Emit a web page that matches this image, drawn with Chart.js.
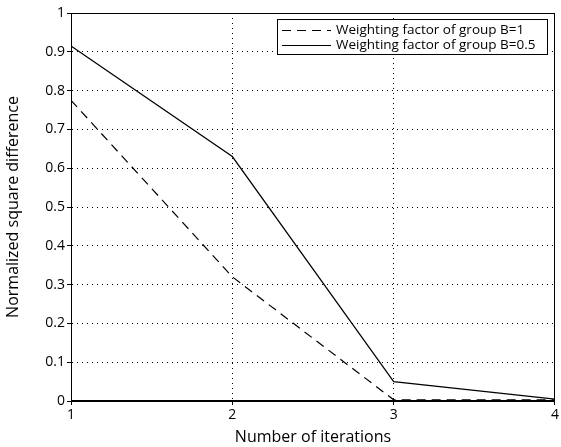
<!DOCTYPE html>
<html>
<head>
<meta charset="utf-8">
<script src="https://cdn.jsdelivr.net/npm/chart.js@4"></script>
<style>
  html, body { margin: 0; padding: 0; background: #fff; }
  #wrap { width: 561px; height: 447px; }
</style>
</head>
<body>
<div id="wrap"><canvas id="grafico" width="561" height="447"></canvas></div>
<script>
// dados
const iteracoes = [1, 2, 3, 4];
const pesoB1 = [0.775, 0.32, 0.003, 0.003];
const pesoB05 = [0.915, 0.63, 0.05, 0.005];
const nomes = ['Weighting factor of group B=1', 'Weighting factor of group B=0.5'];

const fonte = "'Open Sans', 'DejaVu Sans', sans-serif";

// caixa em volta do gráfico + legenda com borda (estilo MATLAB)
const caixaPlugin = {
  id: 'caixa',
  afterDraw(chart) {
    const { ctx, chartArea: a } = chart;
    ctx.save();
    ctx.strokeStyle = '#000';
    ctx.lineWidth = 1;
    ctx.setLineDash([]);
    ctx.strokeRect(a.left + 0.5, a.top + 0.5, a.right - a.left - 1, a.bottom - a.top - 1);

    // legenda
    const lx = 277, ly = 19, lw = 270, lh = 35;
    ctx.fillStyle = '#fff';
    ctx.fillRect(lx, ly, lw, lh);
    ctx.strokeRect(lx + 0.5, ly + 0.5, lw, lh);
    ctx.font = '13.5px ' + fonte;
    ctx.textBaseline = 'middle';
    chart.data.datasets.forEach((ds, i) => {
      const y = ly + 11 + i * 15;
      ctx.strokeStyle = '#000';
      ctx.setLineDash(ds.borderDash || []);
      ctx.beginPath();
      ctx.moveTo(lx + 5, Math.round(y) + 0.5);
      ctx.lineTo(lx + 54, Math.round(y) + 0.5);
      ctx.stroke();
      ctx.setLineDash([]);
      ctx.fillStyle = '#000';
      ctx.fillText(nomes[i], lx + 59, y);
    });
    ctx.restore();
  }
};

new Chart(document.getElementById('grafico'), {
  type: 'line',
  data: {
    datasets: [
      {
        label: nomes[0],
        data: iteracoes.map((x, i) => ({ x: x, y: pesoB1[i] })),
        borderColor: '#000',
        borderWidth: 1.2,
        borderDash: [9, 6],
        pointRadius: 0,
        tension: 0,
        fill: false
      },
      {
        label: nomes[1],
        data: iteracoes.map((x, i) => ({ x: x, y: pesoB05[i] })),
        borderColor: '#000',
        borderWidth: 1.2,
        pointRadius: 0,
        tension: 0,
        fill: false
      }
    ]
  },
  options: {
    responsive: false,
    animation: false,
    layout: { padding: { left: 0, right: 3, top: 13, bottom: 0 } },
    plugins: {
      legend: { display: false },
      tooltip: { enabled: false }
    },
    scales: {
      x: {
        type: 'linear',
        min: 1,
        max: 4,
        afterFit: s => { s.height = 46; },
        ticks: { stepSize: 1, color: '#000', font: { family: fonte, size: 14 }, padding: 2 },
        grid: { color: '#000', lineWidth: 1, tickLength: 4 },
        border: { dash: [1, 4], color: '#000' },
        title: { display: true, text: 'Number of iterations', color: '#000', font: { family: fonte, size: 16 }, padding: { top: 0, bottom: 0 } }
      },
      y: {
        min: 0,
        max: 1,
        afterFit: s => { s.width = 71; },
        ticks: {
          stepSize: 0.1,
          color: '#000',
          font: { family: fonte, size: 14 },
          padding: 2,
          callback: v => Number(v.toFixed(1)).toString()
        },
        grid: { color: '#000', lineWidth: 1, tickLength: 4 },
        border: { dash: [1, 4], color: '#000' },
        title: { display: true, text: 'Normalized square difference', color: '#000', font: { family: fonte, size: 16 }, padding: { top: 4, bottom: 4 } }
      }
    }
  },
  plugins: [caixaPlugin]
});
</script>
</body>
</html>
